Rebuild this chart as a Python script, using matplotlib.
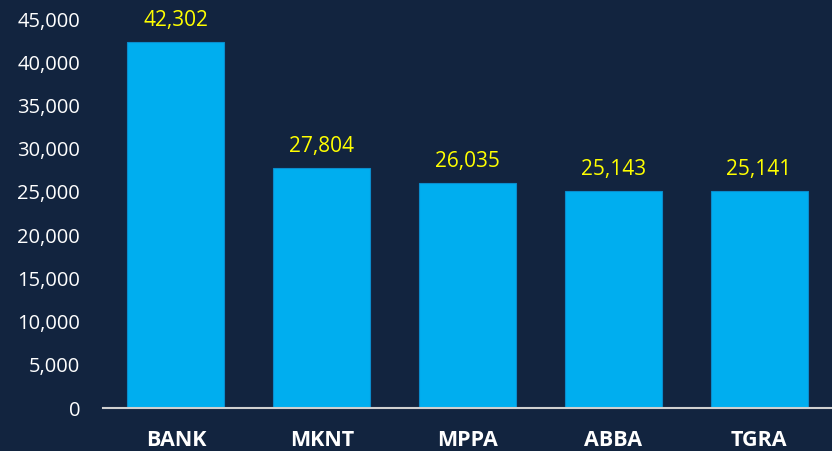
import matplotlib
matplotlib.use("Agg")
import matplotlib.pyplot as plt

categories = ["BANK", "MKNT", "MPPA", "ABBA", "TGRA"]
values = [42302, 27804, 26035, 25143, 25141]
yticks = [0, 5000, 10000, 15000, 20000, 25000, 30000, 35000, 40000, 45000]

BG = "#12243f"
BAR = "#00aeef"

plt.rcParams["font.family"] = ["Open Sans", "DejaVu Sans"]

fig = plt.figure(figsize=(8.32, 4.51), dpi=100, facecolor=BG)
ax = fig.add_axes([103 / 832, 43 / 451, 729 / 832, 408 / 451])
ax.set_facecolor(BG)

x = range(len(categories))
ax.bar(x, values, width=0.665, color=BAR, edgecolor="#0a8ccc", linewidth=0.8)

for xi, v in zip(x, values):
    ax.annotate(f"{v:,}", (xi, v), xytext=(0, 8), textcoords="offset points",
                ha="center", va="bottom", color="#ffff00", fontsize=15)

ax.set_xlim(-0.5, 4.5)
ax.set_ylim(0, 47200)
ax.set_yticks(yticks)
ax.set_yticklabels([f"{t:,}" for t in yticks], color="white", fontsize=14.5)
ax.set_xticks(list(x))
ax.set_xticklabels(categories, color="white", fontsize=15.5, fontweight="bold")
ax.tick_params(axis="y", length=0, pad=16.5)
ax.tick_params(axis="x", length=0, pad=15.5)

for s in ["top", "right", "left"]:
    ax.spines[s].set_visible(False)
ax.spines["bottom"].set_color("#d0d0d0")
ax.spines["bottom"].set_linewidth(1.5)

fig.savefig("out.png", dpi=100, facecolor=BG)
